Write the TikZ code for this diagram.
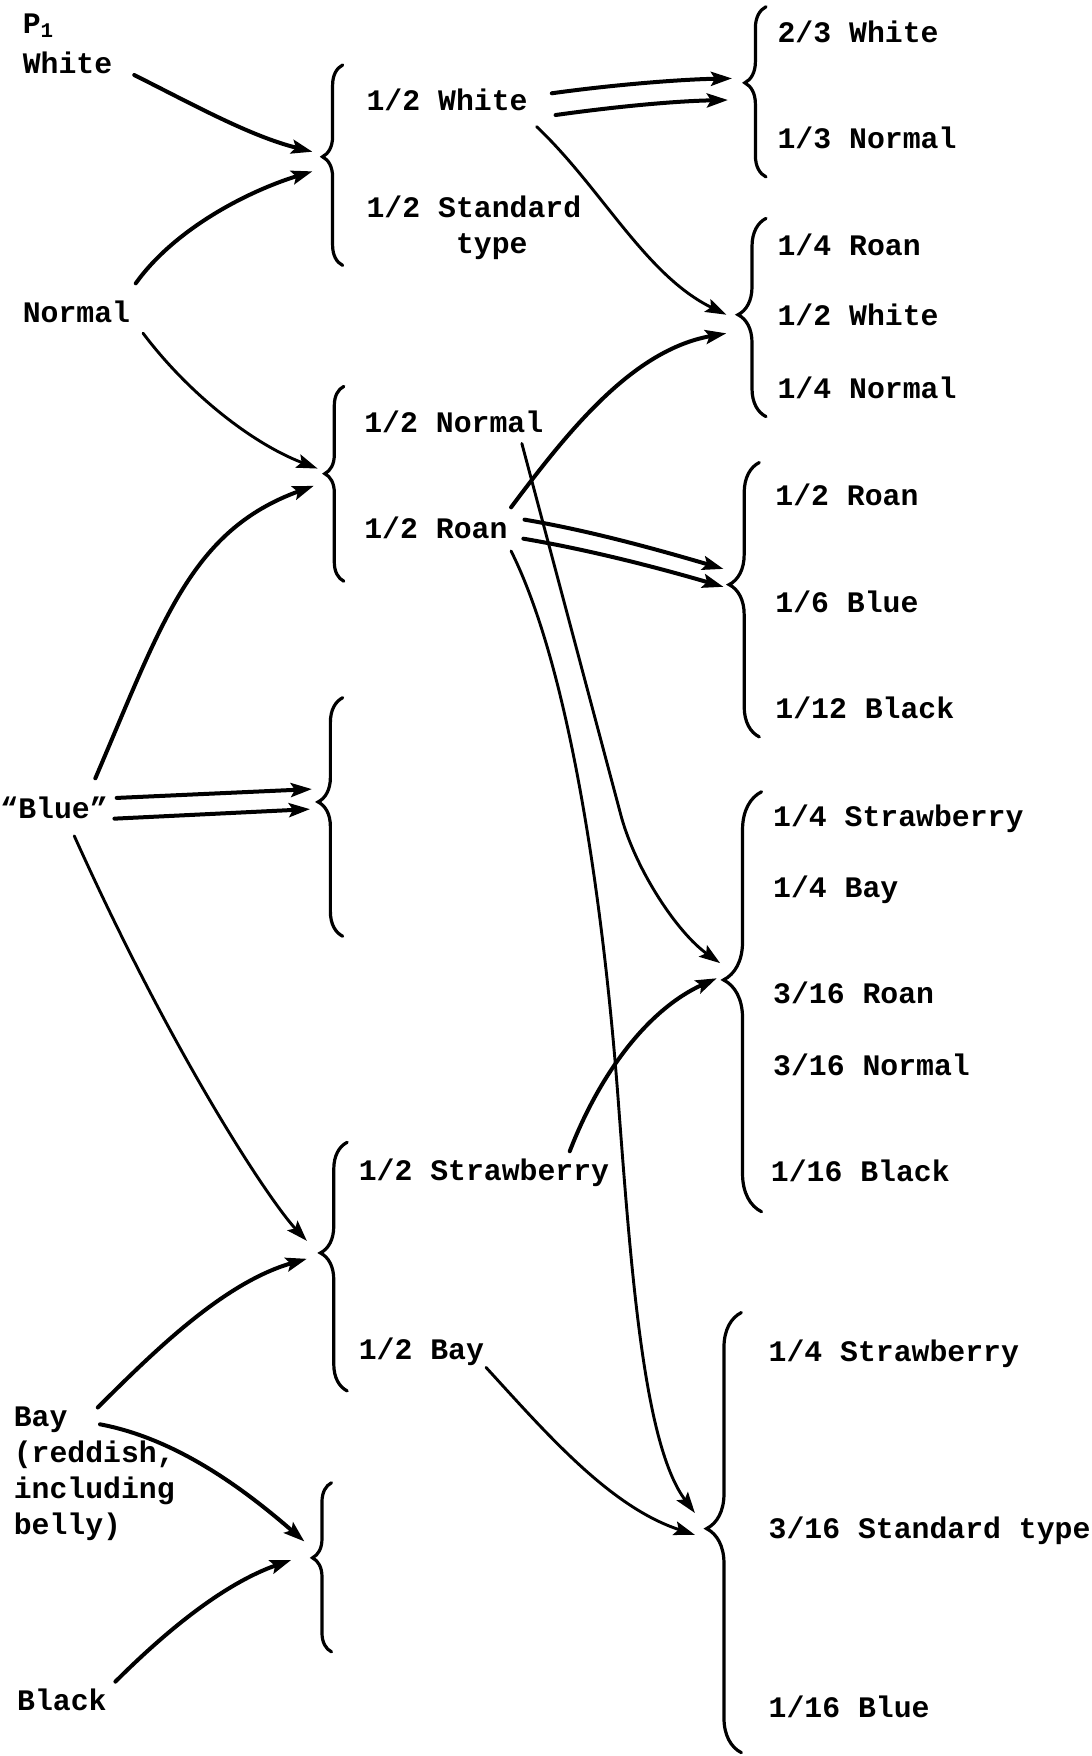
\documentclass[tikz,border=0pt]{standalone}
\usepackage{fontspec}
\setmainfont{Liberation Mono}
\usepackage{tikz}
\usetikzlibrary{arrows.meta, positioning, decorations.pathreplacing}
\tikzset{%
	lbl/.style={inner sep=0pt, anchor=base west, font=\fontsize{14.9}{17.9}\selectfont\bfseries},
	mlbl/.style={lbl, align=left},
	arr/.style={-{Stealth[length=10.5pt, width=7pt, inset=2pt]}, line width=2pt, line cap=round},
	larr/.style={arr, line width=1.45pt},
	brc/.style 2 args={decorate, line width=1.6pt, line cap=round,%
		decoration={brace, amplitude=#1, aspect=#2}}
}
\begin{document}
\begin{tikzpicture}[x=0.56pt, y=-0.56pt]
	\useasboundingbox (0,0) rectangle (975,1568);

	\node[lbl] (p1) at (20,30) {P\textsubscript{1}};
	\node[lbl] (white) at (20,66) {White};
	\node[lbl] (normal) at (20,288) {Normal};
	\node[lbl] (blue) at (0,731) {``Blue''};
	\node[mlbl, anchor=north west] (bay) at (12,1256) {Bay\\(reddish,\\including\\belly)};
	\node[lbl] (black) at (15,1527) {Black};

	\node[lbl] (wh2) at (327,99) {1/2 White};
	\node[mlbl] (std2) at (327,226) {1/2 Standard\\\hspace*{3em}type};
	\node[lbl] (no2) at (325,386) {1/2 Normal};
	\node[lbl] (ro2) at (325,481) {1/2 Roan};
	\node[lbl] (st2) at (320,1054) {1/2 Strawberry};
	\node[lbl] (ba2) at (320,1214) {1/2 Bay};

	\node[lbl] (wh23) at (694,38) {2/3 White};
	\node[lbl] (no13) at (694,133) {1/3 Normal};
	\node[lbl] (ro14) at (694,228) {1/4 Roan};
	\node[lbl] (wh12) at (694,291) {1/2 White};
	\node[lbl] (no14) at (694,356) {1/4 Normal};
	\node[lbl] (ro12) at (692,451) {1/2 Roan};
	\node[lbl] (bl16) at (692,547) {1/6 Blue};
	\node[lbl] (bk112) at (692,642) {1/12 Black};
	\node[lbl] (st14) at (690,738) {1/4 Strawberry};
	\node[lbl] (ba14) at (690,801) {1/4 Bay};
	\node[lbl] (ro316) at (690,896) {3/16 Roan};
	\node[lbl] (no316) at (690,960) {3/16 Normal};
	\node[lbl] (bk116) at (688,1055) {1/16 Black};
	\node[lbl] (st14b) at (686,1216) {1/4 Strawberry};
	\node[lbl] (sd316) at (686,1374) {3/16 Standard type};
	\node[lbl] (bl116) at (686,1534) {1/16 Blue};

	\draw[brc={10.1pt}{.542}] (306,237) -- (306,58);
	\draw[brc={9.5pt}{.552}] (307,519) -- (307,345);
	\draw[brc={12.3pt}{.563}] (306,836) -- (306,623);
	\draw[brc={13.4pt}{.555}] (310,1242) -- (310,1020);
	\draw[brc={9.5pt}{.556}] (296,1475) -- (296,1324);
	\draw[brc={10.6pt}{.553}] (684,158) -- (684,6);
	\draw[brc={14pt}{.514}] (684,372) -- (684,195);
	\draw[brc={15.1pt}{.555}] (678,658) -- (678,413);
	\draw[brc={19pt}{.552}] (680,1082) -- (680,707);
	\draw[brc={17.4pt}{.509}] (662,1565) -- (662,1172);

	\coordinate (tA) at (288,140);
	\coordinate (tB) at (290,423);
	\coordinate (tC) at (284,716);
	\coordinate (tD) at (286,1119);
	\coordinate (tE) at (279,1391);
	\coordinate (tF) at (665,74);
	\coordinate (tG) at (659,281);
	\coordinate (tH) at (651,522);
	\coordinate (tI) at (646,875);
	\coordinate (tJ) at (631,1365);

	\draw[arr] ([shift={(19.3,1)}]white.base east) .. controls +(52,26) and +(-56,-14) .. ([shift={(-9,-4.5)}]tA);
	\draw[arr] ([shift={(4.7,-35)}]normal.base east) .. controls +(35,-49) and +(-57,17.5) .. ([shift={(-9,13)}]tA);
	\draw[larr] ([shift={(11.2,9.5)}]normal.base east) .. controls +(39,52) and +(-60,-23) .. ([shift={(-6.4,-4.6)}]tB);
	\draw[arr] ([shift={(-11.4,-36)}]blue.base east) .. controls +(60,-140) and +(-110,40) .. ([shift={(-9.8,10.8)}]tB);
	\draw[arr] ([shift={(7.7,-18.5)}]blue.base east) -- ([shift={(-5.5,-11.4)}]tC);
	\draw[arr] ([shift={(5.7,0)}]blue.base east) -- ([shift={(-7.2,6.5)}]tC);
	\draw[larr] ([shift={(-30.2,15.4)}]blue.base east) .. controls +(90,200) and +(-32,-34) .. ([shift={(-12,-11)}]tD);
	\draw[arr] ([shift={(75.3,0.8)}]bay.north west) .. controls +(53,-53) and +(-73,21) .. ([shift={(-12,5)}]tD);
	\draw[arr] ([shift={(77.3,15.8)}]bay.north west) .. controls +(69,13) and +(-53,-46) .. ([shift={(-7.2,-14.6)}]tE);
	\draw[arr] ([shift={(7.5,-25.4)}]black.base east) .. controls +(45,-45) and +(-60,21) .. ([shift={(-19,2)}]tE);

	\draw[arr] ([shift={(21.3,-15.7)}]wh2.base east) .. controls +(50,-7) and +(-50,1) .. ([shift={(-11.4,-4)}]tF);
	\draw[arr] ([shift={(24.7,3.7)}]wh2.base east) .. controls +(50,-7) and +(-50,1) .. ([shift={(-15,15.3)}]tF);
	\draw[larr] ([shift={(7.7,14)}]wh2.base east) .. controls +(58,55) and +(-72,-35) .. ([shift={(-10.4,0)}]tG);
	\draw[arr] ([shift={(2.9,-28)}]ro2.base east) .. controls +(51,-68) and +(-84,15) .. ([shift={(-10.4,16.6)}]tG);
	\draw[arr] ([shift={(14.9,-17)}]ro2.base east) .. controls +(59,10) and +(-58,-17) .. ([shift={(-5,-14)}]tH);
	\draw[arr] ([shift={(13.9,0)}]ro2.base east) .. controls +(59,10) and +(-58,-17) .. ([shift={(-5,2)}]tH);
	\draw[larr] ([shift={(-19.4,10)}]no2.base east) -- ++(89,334) .. controls +(13.5,48) and +(-38,-27) .. ([shift={(-3,-15)}]tI);
	\draw[arr] ([shift={(-35.5,-26)}]st2.base east) .. controls +(25,-65) and +(-64,29) .. ([shift={(-6,-1.5)}]tI);
	\draw[larr] ([shift={(2.9,11)}]ro2.base east) .. controls +(55,110) and +(-12,-160) .. (552,982) .. controls +(12,160) and +(-45,-60) .. ([shift={(-10.5,-14)}]tJ);
	\draw[larr] ([shift={(1.5,7)}]ba2.base east) .. controls +(54,59) and +(-76,-25) .. ([shift={(-10.5,5.5)}]tJ);
\end{tikzpicture}
\end{document}
